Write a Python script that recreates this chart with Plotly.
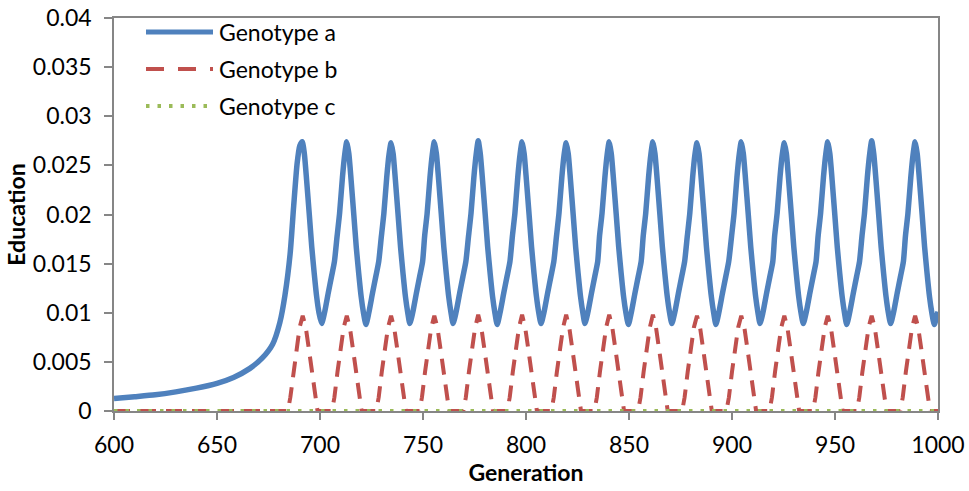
import plotly.graph_objects as go

# ---------------- data ----------------
series_names = ["Genotype a", "Genotype b", "Genotype c"]

gen_a = [600, 610, 620, 630, 640, 650, 658, 666, 672, 677, 680.5, 683, 685.5, 687.2, 688.9, 690.2, 691.4,
         692.4, 693.5, 694.8, 696.0, 697.2, 698.4, 699.5, 700.8,
         702.2, 704.0, 705.6, 707.0, 708.3, 709.5, 710.9, 712.0, 713.0,
         714.0, 715.1, 716.4, 717.6, 718.8, 720.0, 721.1, 722.3,
         723.7, 725.5, 727.1, 728.5, 729.8, 731.0, 732.4, 733.5, 734.5,
         735.5, 736.6, 737.9, 739.1, 740.3, 741.5, 742.6, 743.6,
         745.0, 746.8, 748.4, 749.8, 750.8, 752.0, 753.4, 754.5, 755.5,
         756.5, 757.6, 758.9, 760.1, 761.3, 762.5, 763.6, 764.6,
         766.0, 767.8, 769.4, 770.8, 772.1, 773.3, 774.7, 775.8, 776.8,
         777.8, 778.9, 780.2, 781.4, 782.6, 783.8, 784.9, 786.0,
         787.4, 789.2, 790.8, 792.2, 793.4, 794.6, 796.0, 797.1, 798.1,
         799.1, 800.2, 801.5, 802.7, 803.9, 805.1, 806.2, 807.3,
         808.7, 810.5, 812.1, 813.5, 814.8, 816.0, 817.4, 818.5, 819.5,
         820.5, 821.6, 822.9, 824.1, 825.3, 826.5, 827.6, 828.6,
         830.0, 831.8, 833.4, 834.8, 835.7, 836.9, 838.3, 839.4, 840.4,
         841.4, 842.5, 843.8, 845.0, 846.2, 847.4, 848.5, 849.7,
         851.1, 852.9, 854.5, 855.9, 856.9, 858.1, 859.5, 860.6, 861.6,
         862.6, 863.7, 865.0, 866.2, 867.4, 868.6, 869.7, 870.8,
         872.2, 874.0, 875.6, 877.0, 878.3, 879.5, 880.9, 882.0, 883.0,
         884.0, 885.1, 886.4, 887.6, 888.8, 890.0, 891.1, 892.2,
         893.6, 895.4, 897.0, 898.4, 899.8, 901.0, 902.4, 903.5, 904.5,
         905.5, 906.6, 907.9, 909.1, 910.3, 911.5, 912.6, 913.6,
         915.0, 916.8, 918.4, 919.8, 920.7, 921.9, 923.3, 924.4, 925.4,
         926.4, 927.5, 928.8, 930.0, 931.2, 932.4, 933.5, 934.6,
         936.0, 937.8, 939.4, 940.8, 941.8, 943.0, 944.4, 945.5, 946.5,
         947.5, 948.6, 949.9, 951.1, 952.3, 953.5, 954.6, 955.7,
         957.1, 958.9, 960.5, 961.9, 963.1, 964.3, 965.7, 966.8, 967.8,
         968.8, 969.9, 971.2, 972.4, 973.6, 974.8, 975.9, 977.0,
         978.4, 980.2, 981.8, 983.2, 984.2, 985.4, 986.8, 987.9, 988.9,
         989.9, 991.0, 992.3, 993.5, 994.7, 995.9, 997.0, 998.2,
         999.2, 1000]

edu_a = [0.00128, 0.00146, 0.00165, 0.00195, 0.00233, 0.00282, 0.00342, 0.00434, 0.0054, 0.0068, 0.0090, 0.0118, 0.0160, 0.0208, 0.0252, 0.0270, 0.0274,
         0.0262, 0.0235, 0.0200, 0.0167, 0.0140, 0.0116, 0.0100, 0.0089,
         0.0100, 0.0120, 0.0137, 0.0152, 0.0178, 0.0201, 0.0238, 0.0261, 0.0274,
         0.0262, 0.0235, 0.0200, 0.0167, 0.0140, 0.0116, 0.0100, 0.0088,
         0.0100, 0.0120, 0.0137, 0.0152, 0.0178, 0.0201, 0.0238, 0.0261, 0.0273,
         0.0262, 0.0235, 0.0200, 0.0167, 0.0140, 0.0116, 0.0100, 0.0089,
         0.0100, 0.0120, 0.0137, 0.0152, 0.0178, 0.0201, 0.0238, 0.0261, 0.0274,
         0.0262, 0.0235, 0.0200, 0.0167, 0.0140, 0.0116, 0.0100, 0.0089,
         0.0100, 0.0120, 0.0137, 0.0152, 0.0178, 0.0201, 0.0238, 0.0261, 0.0275,
         0.0262, 0.0235, 0.0200, 0.0167, 0.0140, 0.0116, 0.0100, 0.0088,
         0.0100, 0.0120, 0.0137, 0.0152, 0.0178, 0.0201, 0.0238, 0.0261, 0.0274,
         0.0262, 0.0235, 0.0200, 0.0167, 0.0140, 0.0116, 0.0100, 0.0089,
         0.0100, 0.0120, 0.0137, 0.0152, 0.0178, 0.0201, 0.0238, 0.0261, 0.0273,
         0.0262, 0.0235, 0.0200, 0.0167, 0.0140, 0.0116, 0.0100, 0.0089,
         0.0100, 0.0120, 0.0137, 0.0152, 0.0178, 0.0201, 0.0238, 0.0261, 0.0274,
         0.0262, 0.0235, 0.0200, 0.0167, 0.0140, 0.0116, 0.0100, 0.0088,
         0.0100, 0.0120, 0.0137, 0.0152, 0.0178, 0.0201, 0.0238, 0.0261, 0.0274,
         0.0262, 0.0235, 0.0200, 0.0167, 0.0140, 0.0116, 0.0100, 0.0089,
         0.0100, 0.0120, 0.0137, 0.0152, 0.0178, 0.0201, 0.0238, 0.0261, 0.0273,
         0.0262, 0.0235, 0.0200, 0.0167, 0.0140, 0.0116, 0.0100, 0.0088,
         0.0100, 0.0120, 0.0137, 0.0152, 0.0178, 0.0201, 0.0238, 0.0261, 0.0274,
         0.0262, 0.0235, 0.0200, 0.0167, 0.0140, 0.0116, 0.0100, 0.0089,
         0.0100, 0.0120, 0.0137, 0.0152, 0.0178, 0.0201, 0.0238, 0.0261, 0.0273,
         0.0262, 0.0235, 0.0200, 0.0167, 0.0140, 0.0116, 0.0100, 0.0089,
         0.0100, 0.0120, 0.0137, 0.0152, 0.0178, 0.0201, 0.0238, 0.0261, 0.0274,
         0.0262, 0.0235, 0.0200, 0.0167, 0.0140, 0.0116, 0.0100, 0.0088,
         0.0100, 0.0120, 0.0137, 0.0152, 0.0178, 0.0201, 0.0238, 0.0261, 0.0275,
         0.0262, 0.0235, 0.0200, 0.0167, 0.0140, 0.0116, 0.0100, 0.0089,
         0.0100, 0.0120, 0.0137, 0.0152, 0.0178, 0.0201, 0.0238, 0.0261, 0.0274,
         0.0262, 0.0235, 0.0200, 0.0167, 0.0140, 0.0116, 0.0100, 0.0088,
         0.0095, 0.0101]

gen_b = [600, 684.4, 685.6, 687.1, 688.6, 690.1, 691.6, 693.1, 694.6, 696.1, 697.6, 698.8,
         705.8, 707.0, 708.5, 710.0, 711.5, 713.0, 714.5, 716.0, 717.5, 719.0, 720.2,
         727.3, 728.5, 730.0, 731.5, 733.0, 734.5, 736.0, 737.5, 739.0, 740.5, 741.7,
         748.3, 749.5, 751.0, 752.5, 754.0, 755.5, 757.0, 758.5, 760.0, 761.5, 762.7,
         769.6, 770.8, 772.3, 773.8, 775.3, 776.8, 778.3, 779.8, 781.3, 782.8, 784.0,
         790.9, 792.1, 793.6, 795.1, 796.6, 798.1, 799.6, 801.1, 802.6, 804.1, 805.3,
         812.3, 813.5, 815.0, 816.5, 818.0, 819.5, 821.0, 822.5, 824.0, 825.5, 826.7,
         833.2, 834.4, 835.9, 837.4, 838.9, 840.4, 841.9, 843.4, 844.9, 846.4, 847.6,
         854.4, 855.6, 857.1, 858.6, 860.1, 861.6, 863.1, 864.6, 866.1, 867.6, 868.8,
         875.8, 877.0, 878.5, 880.0, 881.5, 883.0, 884.5, 886.0, 887.5, 889.0, 890.2,
         897.3, 898.5, 900.0, 901.5, 903.0, 904.5, 906.0, 907.5, 909.0, 910.5, 911.7,
         918.2, 919.4, 920.9, 922.4, 923.9, 925.4, 926.9, 928.4, 929.9, 931.4, 932.6,
         939.3, 940.5, 942.0, 943.5, 945.0, 946.5, 948.0, 949.5, 951.0, 952.5, 953.7,
         960.6, 961.8, 963.3, 964.8, 966.3, 967.8, 969.3, 970.8, 972.3, 973.8, 975.0,
         981.7, 982.9, 984.4, 985.9, 987.4, 988.9, 990.4, 991.9, 993.4, 994.9, 996.1,
         1000]

edu_b = [0, 0, 0.0014, 0.0040, 0.0063, 0.0085, 0.0097, 0.0085, 0.0063, 0.0040, 0.0014, 0,
         0, 0.0014, 0.0040, 0.0063, 0.0085, 0.0097, 0.0085, 0.0063, 0.0040, 0.0014, 0,
         0, 0.0014, 0.0040, 0.0063, 0.0085, 0.0097, 0.0085, 0.0063, 0.0040, 0.0014, 0,
         0, 0.0014, 0.0040, 0.0063, 0.0085, 0.0097, 0.0085, 0.0063, 0.0040, 0.0014, 0,
         0, 0.0014, 0.0040, 0.0063, 0.0085, 0.0098, 0.0085, 0.0063, 0.0040, 0.0014, 0,
         0, 0.0014, 0.0040, 0.0063, 0.0085, 0.0098, 0.0085, 0.0063, 0.0040, 0.0014, 0,
         0, 0.0014, 0.0040, 0.0063, 0.0085, 0.0098, 0.0085, 0.0063, 0.0040, 0.0014, 0,
         0, 0.0014, 0.0040, 0.0063, 0.0085, 0.0098, 0.0085, 0.0063, 0.0040, 0.0014, 0,
         0, 0.0014, 0.0040, 0.0063, 0.0085, 0.0098, 0.0085, 0.0063, 0.0040, 0.0014, 0,
         0, 0.0014, 0.0040, 0.0063, 0.0085, 0.0097, 0.0085, 0.0063, 0.0040, 0.0014, 0,
         0, 0.0014, 0.0040, 0.0063, 0.0085, 0.0097, 0.0085, 0.0063, 0.0040, 0.0014, 0,
         0, 0.0014, 0.0040, 0.0063, 0.0085, 0.0097, 0.0085, 0.0063, 0.0040, 0.0014, 0,
         0, 0.0014, 0.0040, 0.0063, 0.0085, 0.0097, 0.0085, 0.0063, 0.0040, 0.0014, 0,
         0, 0.0014, 0.0040, 0.0063, 0.0085, 0.0097, 0.0085, 0.0063, 0.0040, 0.0014, 0,
         0, 0.0014, 0.0040, 0.0063, 0.0085, 0.0097, 0.0085, 0.0063, 0.0040, 0.0014, 0,
         0]

gen_c = [600, 1000]
edu_c = [0, 0]

x_ticks = [600, 650, 700, 750, 800, 850, 900, 950, 1000]
x_tick_labels = ["600", "650", "700", "750", "800", "850", "900", "950", "1000"]
y_ticks = [0, 0.005, 0.01, 0.015, 0.02, 0.025, 0.03, 0.035, 0.04]
y_tick_labels = ["0", "0.005", "0.01", "0.015", "0.02", "0.025", "0.03", "0.035", "0.04"]

x_title = "Generation"
y_title = "Education"

# ---------------- style ----------------
BLUE = "#4F81BD"
RED = "#C0504D"
GREEN = "#9BBB59"
AXIS = "#868686"
FONT = "Lato"
TICK_SIZE = 23
TITLE_SIZE = 23

fig = go.Figure()
fig.add_trace(go.Scatter(x=gen_a, y=edu_a, mode="lines", name=series_names[0],
                         line=dict(color=BLUE, width=5.5, shape="spline", smoothing=0.6),
                         showlegend=False))
fig.add_trace(go.Scatter(x=gen_b, y=edu_b, mode="lines", name=series_names[1],
                         line=dict(color=RED, width=4, dash="16px,10px"),
                         showlegend=False))
fig.add_trace(go.Scatter(x=gen_c, y=edu_c, mode="lines", name=series_names[2],
                         line=dict(color=GREEN, width=4, dash="3.5px,8px"),
                         showlegend=False))

L, R, T, B = 114, 31, 18, 80
W, H = 969, 491
pw, ph = W - L - R, H - T - B

def px_x(p):
    return (p - L) / pw

def px_y(p):
    return (H - B - p) / ph

legend_rows = [32, 69, 106]
legend_styles = [dict(color=BLUE, width=5), dict(color=RED, width=4, dash="18px,14px"),
                 dict(color=GREEN, width=4, dash="3.5px,8px")]
shapes = []
annotations = []
for name, row, st in zip(series_names, legend_rows, legend_styles):
    shapes.append(dict(type="line", xref="paper", yref="paper",
                       x0=px_x(146), x1=px_x(213), y0=px_y(row), y1=px_y(row), line=st))
    annotations.append(dict(text=name, xref="paper", yref="paper", x=px_x(217), y=px_y(row),
                            xanchor="left", yanchor="middle", showarrow=False,
                            font=dict(family=FONT, size=TICK_SIZE, color="#000000")))

fig.update_layout(
    width=W, height=H,
    margin=dict(l=L, r=R, t=T, b=B, autoexpand=False),
    paper_bgcolor="white", plot_bgcolor="white",
    font=dict(family=FONT, size=TICK_SIZE, color="#000000"),
    shapes=shapes, annotations=annotations,
    xaxis=dict(range=[600, 1000], tickvals=x_ticks, ticktext=x_tick_labels, automargin=False,
               showgrid=False, zeroline=False, showline=True, linecolor=AXIS, linewidth=1.5,
               mirror=True, ticks="outside", ticklen=7, tickcolor=AXIS, tickwidth=1.5,
               ticklabelstandoff=6,
               title=dict(text="<b>" + x_title + "</b>", font=dict(family=FONT, size=TITLE_SIZE), standoff=6)),
    yaxis=dict(range=[0, 0.04], tickvals=y_ticks, ticktext=y_tick_labels, automargin=False,
               showgrid=False, zeroline=False, showline=True, linecolor=AXIS, linewidth=1.5,
               mirror=True, ticks="outside", ticklen=8, tickcolor=AXIS, tickwidth=1.5,
               ticklabelstandoff=8,
               title=dict(text="<b>" + y_title + "</b>", font=dict(family=FONT, size=TITLE_SIZE), standoff=1)),
)

fig.write_html("out.html", config={"displayModeBar": False},
               post_script="document.body.style.margin='0';document.body.style.overflow='hidden';")
